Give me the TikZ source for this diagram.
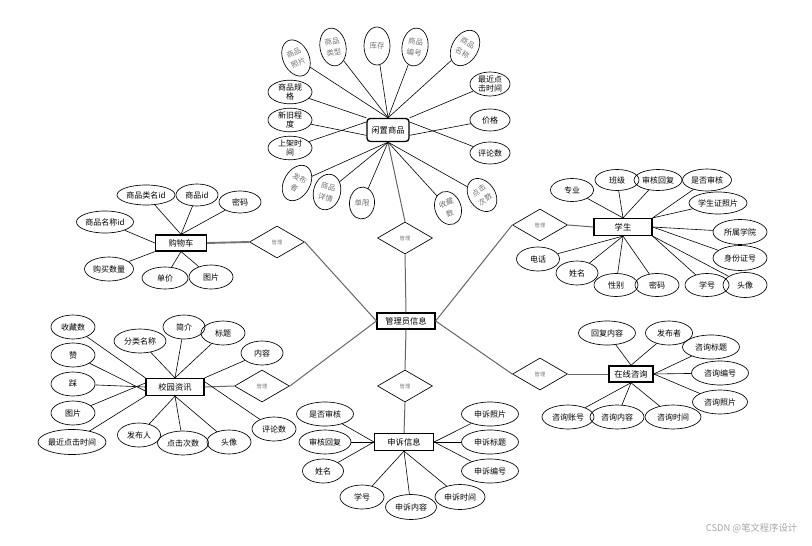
\documentclass[tikz,border=0pt]{standalone}
\usepackage{fontspec}
\newfontfamily\cjk{Noto Sans CJK SC}
\usetikzlibrary{shapes.geometric}
\begin{document}
\begin{tikzpicture}[x=0.75pt,y=-0.75pt,
  sz/.style 2 args={minimum width=#1*0.75pt, minimum height=#2*0.75pt},
  attr/.style={draw, ellipse, inner sep=0pt, line width=0.5pt, font=\cjk\fontsize{6}{7}\selectfont, align=center, sz={44}{24}},
  rattr/.style={attr, text=black!55, sz={26}{38}, font=\cjk\fontsize{5.6}{8.2}\selectfont},
  ent/.style={draw, rectangle, inner sep=0pt, line width=0.9pt, font=\cjk\fontsize{6.2}{7}\selectfont},
  rel/.style={draw, diamond, inner sep=0pt, line width=0.5pt, sz={55}{32}, font=\cjk\fontsize{4}{5}\selectfont, text=black!50},
  ln/.style={draw, line width=0.45pt},
  link/.style={draw=black!60, line width=0.75pt},
  linkthick/.style={draw=black!55, line width=1.4pt}]
\fill[white] (0,0) rectangle (812,545);
\useasboundingbox (0,0) rectangle (812,545);

% central and relations
\node[ent, sz={58}{16}] (gly) at (406,321) {管理员信息};
\node[rel] (r1) at (405,238) {管理};
\node[rel] (r2) at (277,242) {管理};
\node[rel] (r3) at (540,225) {管理};
\node[rel] (r4) at (262,386) {管理};
\node[rel] (r5) at (540,374) {管理};
\node[rel] (r6) at (405,386) {管理};

% entities
\node[ent, rounded corners=2.5pt, line width=1pt, sz={42}{23}] (xz) at (388,130) {闲置商品};
\node[ent, sz={51}{16}] (gwc) at (181,243) {购物车};
\node[ent, sz={58}{17}] (xs) at (623,227) {学生};
\node[ent, sz={58}{17}] (xy) at (175,387) {校园资讯};
\node[ent, sz={59}{17}] (ss) at (404,442) {申诉信息};
\node[ent, line width=1.1pt, sz={44}{16}] (zx) at (631,374) {在线咨询};

% entity-relation links
\draw[link] (r1.south) -- (gly.north);
\draw[link] (r1.north) -- (xz.south);
\draw[linkthick] (r2.west) -- (gwc.east);
\draw[link] (r2.east) -- (gly.west);
\draw[link] (r4.east) -- (gly.west);
\draw[link] (r4.west) -- (xy.east);
\draw[link] (r3.west) -- (gly.east);
\draw[link] (r3.east) -- (xs.west);
\draw[link] (r5.west) -- (gly.east);
\draw[link] (r5.east) -- (zx.west);
\draw[link] (r6.north) -- (gly.south);
\draw[link] (r6.south) -- (ss.north);

% 闲置商品 attributes
\node[rattr, rotate=25] (a1) at (296,58) {商品\\照片};
\node[rattr, rotate=10] (a2) at (333,47) {商品\\类型};
\node[rattr] (a3) at (377,46) {库存};
\node[rattr, rotate=-8] (a4) at (415,47) {商品\\编号};
\node[rattr, rotate=-30] (a5) at (465,48) {商品\\名称};
\node[attr, sz={40}{24}] (a6) at (490,84) {最近点\\击时间};
\node[attr, sz={44}{23}] (a7) at (290,92) {商品规\\格};
\node[attr, sz={44}{23}] (a8) at (290,120) {新旧程\\度};
\node[attr, sz={44}{23}] (a9) at (290,148) {上架时\\间};
\node[attr, sz={40}{22}] (a10) at (490,120) {价格};
\node[attr, sz={40}{22}] (a11) at (490,153) {评论数};
\node[rattr, rotate=-30] (a12) at (297,183) {发布\\者};
\node[rattr, rotate=-15, sz={27}{36}] (a13) at (327,192) {商品\\详情};
\node[rattr, rotate=-5, sz={25}{32}] (a14) at (362,203) {单限};
\node[rattr, rotate=20, sz={26}{34}] (a15) at (448,208) {收藏\\数};
\node[rattr, rotate=35, sz={26}{36}] (a16) at (482,195) {点击\\次数};
\foreach \i in {a1,a2,a3,a4,a5} \draw[ln] (\i) -- (xz.north);
\draw[ln] (a6) -- (xz.north east);
\draw[ln] (a7) -- (xz.north west);
\draw[ln] ([yshift=-4]xz.west) -- (a8);
\draw[ln] ([yshift=6]xz.west) -- (a9);
\draw[ln] ([yshift=-4]xz.east) -- (a10);
\draw[ln] ([yshift=6]xz.east) -- (a11);
\foreach \i in {a12,a13,a14,a15,a16} \draw[ln] (\i) -- (xz.south);

% 购物车 attributes
\node[attr, sz={58}{20}] (b1) at (146,195) {商品类名id};
\node[attr, sz={42}{22}] (b2) at (197,195) {商品id};
\node[attr, sz={42}{22}] (b3) at (240,202) {密码};
\node[attr, sz={57}{22}] (b4) at (105,222) {商品名称id};
\node[attr, sz={49}{24}] (b5) at (109,269) {购买数量};
\node[attr, sz={46}{22}] (b6) at (165,278) {单价};
\node[attr, sz={44}{24}] (b7) at (211,277) {图片};
\foreach \i in {b1,b2,b3} \draw[ln] (\i) -- (gwc.north);
\draw[ln] (b4) -- (gwc.west);
\draw[ln] (b5) -- (gwc.south west);
\draw[ln] (b6) -- (gwc.south);
\draw[ln] (b7) -- (gwc.south);

% 学生 attributes
\node[attr, sz={43}{23}] (c1) at (572,190) {专业};
\node[attr, sz={44}{21}] (c2) at (617,180) {班级};
\node[attr, sz={48}{21}] (c3) at (658,180) {审核回复};
\node[attr, sz={49}{22}] (c4) at (707,180) {是否审核};
\node[attr, sz={58}{22}] (c5) at (718,203) {学生证照片};
\node[attr, sz={54}{25}] (c6) at (740,232) {所属学院};
\node[attr, sz={54}{25}] (c7) at (740,258) {身份证号};
\node[attr, sz={44}{25}] (c8) at (745,285) {头像};
\node[attr, sz={44}{23}] (c9) at (707,285) {学号};
\node[attr, sz={44}{23}] (c10) at (657,285) {密码};
\node[attr, sz={44}{23}] (c11) at (616,285) {性别};
\node[attr, sz={42}{24}] (c12) at (577,273) {姓名};
\node[attr, sz={43}{24}] (c13) at (538,259) {电话};
\foreach \i in {c1,c2,c3} \draw[ln] (\i) -- (xs.north);
\foreach \i in {c4,c5} \draw[ln] (\i) -- (xs.north east);
\foreach \i in {c6,c7} \draw[ln] (\i) -- (xs.east);
\foreach \i in {c8,c9} \draw[ln] (\i) -- (xs.south east);
\foreach \i in {c10,c11,c12,c13} \draw[ln] (\i) -- (xs.south);

% 校园资讯 attributes
\node[attr] (d1) at (73,327) {收藏数};
\node[attr] (d2) at (73,355) {赞};
\node[attr] (d3) at (73,384) {踩};
\node[attr] (d4) at (73,413) {图片};
\node[attr, sz={68}{25}] (d5) at (72,442) {最近点击时间};
\node[attr, sz={52}{24}] (d6) at (140,341) {分类名称};
\node[attr, sz={42}{24}] (d7) at (184,327) {简介};
\node[attr] (d8) at (223,333) {标题};
\node[attr, sz={42}{24}] (d9) at (262,353) {内容};
\node[attr] (d10) at (274,429) {评论数};
\node[attr] (d11) at (229,442) {头像};
\node[attr, sz={51}{24}] (d12) at (183,443) {点击次数};
\node[attr, sz={43}{24}] (d13) at (139,435) {发布人};
\draw[ln] (d1) -- (xy.north west);
\draw[ln] (d2) -- ([yshift=-3]xy.west);
\draw[ln] (d3) -- (xy.west);
\draw[ln] (d4) -- ([yshift=3]xy.west);
\draw[ln] (d5) -- (xy.south west);
\foreach \i in {d6,d7,d8} \draw[ln] (\i) -- (xy.north);
\draw[ln] (d9) -- (xy.north east);
\draw[ln] (d10) -- ([yshift=4]xy.east);
\foreach \i in {d11,d12,d13} \draw[ln] (\i) -- (xy.south);

% 申诉信息 attributes
\node[attr, sz={57}{24}] (e1) at (325,414) {是否审核};
\node[attr, sz={52}{24}] (e2) at (325,442) {审核回复};
\node[attr, sz={41}{24}] (e3) at (323,471) {姓名};
\node[attr] (e4) at (362,497) {学号};
\node[attr, sz={51}{25}] (e5) at (411,507) {申诉内容};
\node[attr, sz={50}{25}] (e6) at (460,497) {申诉时间};
\node[attr, sz={57}{24}] (e7) at (490,414) {申诉照片};
\node[attr, sz={57}{24}] (e8) at (490,442) {申诉标题};
\node[attr, sz={57}{24}] (e9) at (490,471) {申诉编号};
\foreach \i in {e1,e2,e3} \draw[ln] (\i) -- (ss.west);
\foreach \i in {e4,e5,e6} \draw[ln] (\i) -- (ss.south);
\foreach \i in {e7,e8,e9} \draw[ln] (\i) -- (ss.east);

% 在线咨询 attributes
\node[attr, sz={57}{24}] (f1) at (607,333) {回复内容};
\node[attr, sz={47}{24}] (f2) at (669,333) {发布者};
\node[attr, sz={57}{24}] (f3) at (711,347) {咨询标题};
\node[attr, sz={57}{24}] (f4) at (720,373) {咨询编号};
\node[attr, sz={55}{24}] (f5) at (720,402) {咨询照片};
\node[attr, sz={56}{24}] (f6) at (673,417) {咨询时间};
\node[attr, sz={54}{24}] (f7) at (617,417) {咨询内容};
\node[attr, sz={52}{24}] (f8) at (568,417) {咨询账号};
\foreach \i in {f1,f2} \draw[ln] (\i) -- (zx.north);
\draw[ln] (f3) -- (zx.east);
\draw[ln] (f4) -- (zx.east);
\draw[ln] (f5) -- (zx.east);
\foreach \i in {f6,f7,f8} \draw[ln] (\i) -- (zx.south);

% watermark
\node[font=\cjk\fontsize{7}{8}\selectfont, text=black!35, anchor=east] (wm) at (802,528) {CSDN @笔文程序设计};
\end{tikzpicture}
\end{document}
